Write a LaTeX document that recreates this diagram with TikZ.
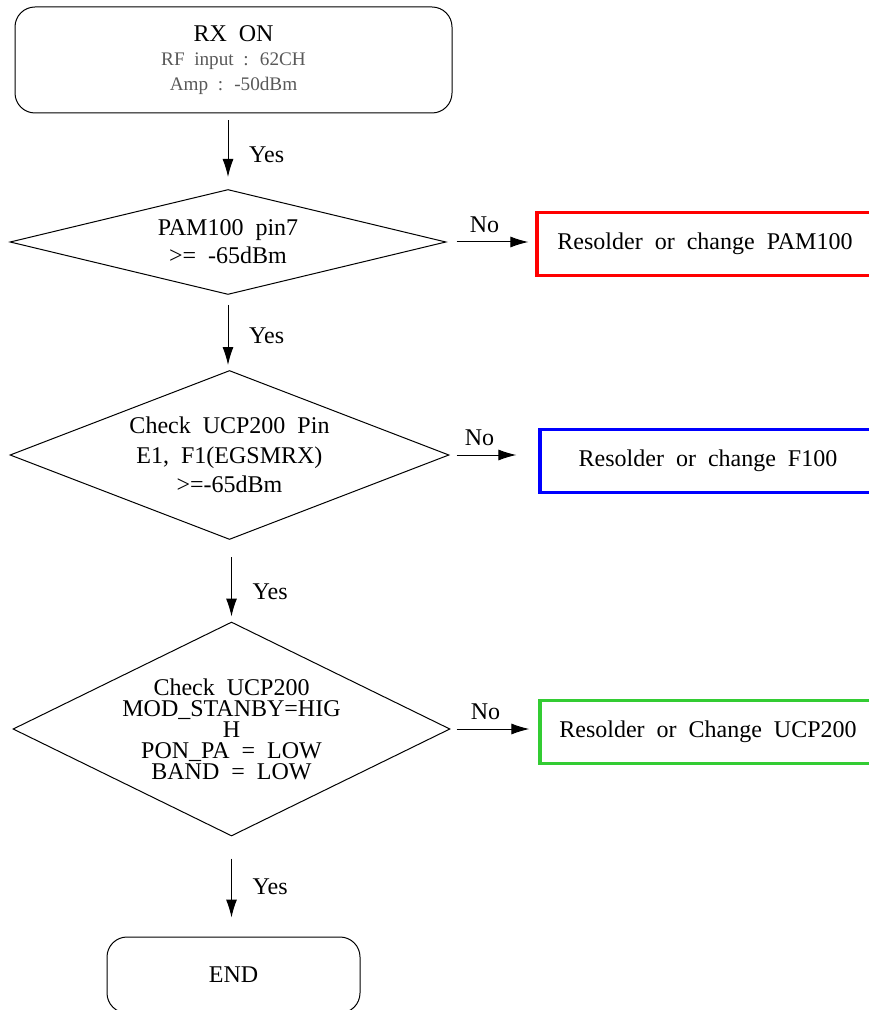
\documentclass[tikz,border=0pt]{standalone}
\usepackage{fontspec}
\setmainfont{Liberation Serif}[WordSpace=2]
\usepackage{tikz}
\usetikzlibrary{shapes,arrows.meta,positioning}
\definecolor{fixgreen}{RGB}{51,204,51}
\tikzstyle{terminal} = [draw, rectangle, rounded corners=10pt, align=center, line width=0.5pt]
\tikzstyle{decision} = [draw, diamond, inner sep=0pt, align=center, line width=0.5pt]
\tikzstyle{fixbox} = [draw, rectangle, line width=1.6pt, minimum width=168pt, minimum height=31.5pt]

\begin{document}
\begin{tikzpicture}[auto, node distance=91pt, >={Latex[length=9pt,width=5.5pt]}, font=\fontsize{12}{14}\selectfont]
    \useasboundingbox (0,0) rectangle (434pt,-505pt);
    % Checks
    \node [terminal, minimum width=218.5pt, minimum height=53pt, font=\fontsize{12}{12.25}\selectfont] (rxon) at (116.75pt,-30pt)
        {RX ON\\{\color{black!65}\fontsize{9.6}{12.25}\selectfont RF input : 62CH}\\{\color{black!65}\fontsize{9.6}{12.25}\selectfont Amp : -50dBm}};
    \node [decision, below of=rxon, xshift=-2.75pt, aspect=4.15, minimum width=218pt, minimum height=52.5pt] (pam) {PAM100 pin7\\>= -65dBm};
    \node [decision, below of=pam, node distance=106.5pt, xshift=0.75pt, aspect=2.6, minimum width=219.5pt, minimum height=84.5pt] (ucppin)
        {Check UCP200 Pin\\[0.75pt]E1, F1(EGSMRX)\\[0.75pt]>=-65dBm};
    \node [decision, below of=ucppin, node distance=137pt, xshift=1pt, aspect=2.04, minimum width=218.5pt, minimum height=107pt, font=\fontsize{12}{10.5}\selectfont] (ucpmode)
        {Check UCP200\\MOD\_STANBY=HIG\\H\\PON\_PA = LOW\\BAND = LOW};
    \node [terminal, below of=ucpmode, node distance=123pt, xshift=1pt, minimum width=126.5pt, minimum height=38pt] (finish) {END};
    % Repairs
    \node [fixbox, draw=red, right of=pam, node distance=238.5pt, yshift=-1pt] (fixpam) {Resolder or change PAM100};
    \node [fixbox, draw=blue, right of=ucppin, node distance=239.25pt, yshift=-3pt] (fixfilter) {Resolder or change F100};
    \node [fixbox, draw=fixgreen, right of=ucpmode, node distance=238.25pt, yshift=-1.5pt] (fixucp) {Resolder or Change UCP200};

    % Connections
    \draw [->, line width=0.5pt, shorten <=3.5pt, shorten >=6pt] (rxon.south -| pam.north) -- node [xshift=7pt, yshift=-1.75pt] {Yes} (pam.north);
    \draw [->, line width=0.5pt, shorten <=5pt, shorten >=2.5pt] (pam.south) -- node [xshift=7pt, yshift=-1.5pt] {Yes} (pam.south |- ucppin.north);
    \draw [->, line width=0.5pt, shorten <=8.5pt, shorten >=2.5pt] (ucppin.south -| ucpmode.north) -- node [xshift=7pt, yshift=-5.5pt] {Yes} (ucpmode.north);
    \draw [->, line width=0.5pt, shorten <=11pt, shorten >=9.5pt] (ucpmode.south) -- node [xshift=7pt] {Yes} (ucpmode.south |- finish.north);
    \draw [->, line width=0.5pt, shorten <=5pt, shorten >=3.5pt] (pam.east) -- node [xshift=-3.25pt, yshift=1pt] {No} (pam.east -| fixpam.west);
    \draw [->, line width=0.5pt, shorten <=3.5pt, shorten >=11pt] (ucppin.east) -- node [xshift=-7.25pt, yshift=1pt] {No} (ucppin.east -| fixfilter.west);
    \draw [->, line width=0.5pt, shorten <=3pt, shorten >=4.5pt] (ucpmode.east) -- node [xshift=-4.5pt, yshift=1pt] {No} (ucpmode.east -| fixucp.west);
\end{tikzpicture}
\end{document}
